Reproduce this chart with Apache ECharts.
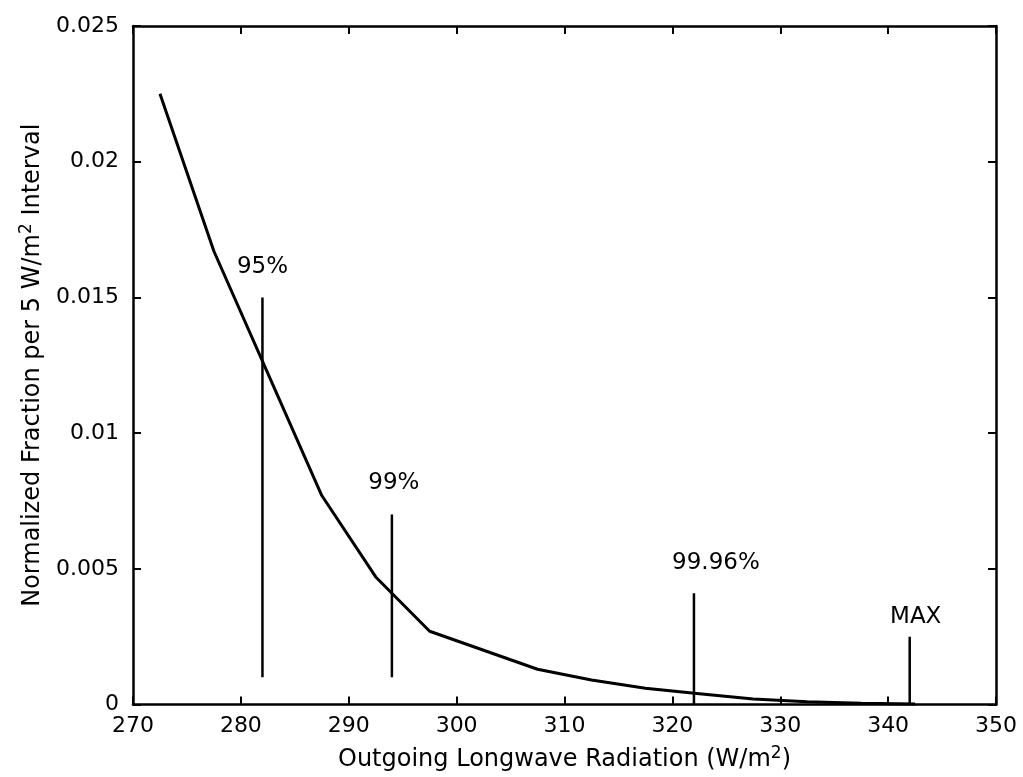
<!DOCTYPE html>
<html>
<head>
<meta charset="utf-8">
<script src="https://cdn.jsdelivr.net/npm/echarts@6/dist/echarts.min.js"></script>
<style>
  html, body { margin: 0; background: #fff; }
  #chart { width: 1023px; height: 777px; }
</style>
</head>
<body>
<div id="chart"></div>
<script>
// OLR bin centres (W/m2) and normalized fraction per 5 W/m2 bin
var olr = [272.5, 277.5, 282.5, 287.5, 292.5, 297.5, 302.5, 307.5, 312.5, 317.5, 322.5, 327.5, 332.5, 337.5, 342.5];
var fraction = [0.0225, 0.0167, 0.0122, 0.0077, 0.0047, 0.0027, 0.0020, 0.0013, 0.0009, 0.0006, 0.0004, 0.0002, 0.0001, 0.00005, 0.00002];

// percentile markers
var markX = [282, 294, 322, 342];
var markLow = [0.001, 0.001, 0, 0];
var markHigh = [0.015, 0.007, 0.0041, 0.0025];
var markText = ['95%', '99%', '99.96%', 'MAX'];

// axis ticks
var xMin = 270, xMax = 350, xStep = 10;
var yMin = 0, yMax = 0.025, yStep = 0.005;

var FONT = 'DejaVu Sans';
var chart = echarts.init(document.getElementById('chart'));

// label placement for each marker (px above the top and sideways shift)
var labelGap = [19, 20, 19, 8];
var labelShift = [0, 2, 22, 6];

var markSeries = markX.map(function (x, i) {
  return {
    type: 'line',
    xAxisIndex: 0,
    yAxisIndex: 0,
    symbol: 'circle',
    symbolSize: 0,
    showSymbol: true,
    silent: true,
    lineStyle: { color: '#000', width: 2.5 },
    itemStyle: { color: '#000' },
    data: [
      [x, markLow[i]],
      {
        value: [x, markHigh[i]],
        label: {
          show: true,
          formatter: markText[i],
          position: 'top',
          distance: labelGap[i],
          offset: [labelShift[i], 0],
          color: '#000',
          fontFamily: FONT,
          fontSize: 23
        }
      }
    ]
  };
});

function xAxisCfg(pos, showLabels) {
  return {
    type: 'value',
    position: pos,
    min: xMin,
    max: xMax,
    interval: xStep,
    axisLine: { show: true, onZero: false, lineStyle: { color: '#000', width: 2.5 } },
    axisTick: { show: true, inside: true, length: 8, lineStyle: { color: '#000', width: 2 } },
    axisLabel: { show: showLabels, color: '#000', fontFamily: FONT, fontSize: 22, margin: 11 },
    splitLine: { show: false }
  };
}

function yAxisCfg(pos, showLabels) {
  return {
    type: 'value',
    position: pos,
    min: yMin,
    max: yMax,
    interval: yStep,
    axisLine: { show: true, onZero: false, lineStyle: { color: '#000', width: 2.5 } },
    axisTick: { show: true, inside: true, length: 8, lineStyle: { color: '#000', width: 2 } },
    axisLabel: {
      show: showLabels, color: '#000', fontFamily: FONT, fontSize: 22, margin: 14,
      formatter: function (v) { return v === 0 ? '0' : String(+v.toFixed(3)); }
    },
    splitLine: { show: false }
  };
}

var bottomX = xAxisCfg('bottom', true);
bottomX.name = 'Outgoing Longwave Radiation (W/m{sup|2})';
bottomX.nameLocation = 'middle';
bottomX.nameGap = 41;
bottomX.nameTextStyle = {
  color: '#000', fontFamily: FONT, fontSize: 24,
  rich: { sup: { fontFamily: FONT, fontSize: 17, verticalAlign: 'top', padding: [0, 0, 12, 0] } }
};

var leftY = yAxisCfg('left', true);
leftY.name = 'Normalized Fraction per 5 W/m{sup|2} Interval';
leftY.nameLocation = 'middle';
leftY.nameGap = 86;
leftY.nameTextStyle = {
  color: '#000', fontFamily: FONT, fontSize: 24,
  rich: { sup: { fontFamily: FONT, fontSize: 17, verticalAlign: 'top', padding: [0, 0, 12, 0] } }
};

var option = {
  backgroundColor: '#fff',
  animation: false,
  grid: { left: 133, right: 27, top: 26, bottom: 72 },
  xAxis: [bottomX, xAxisCfg('top', false)],
  yAxis: [leftY, yAxisCfg('right', false)],
  series: [{
    type: 'line',
    xAxisIndex: 0,
    yAxisIndex: 0,
    symbol: 'none',
    silent: true,
    lineStyle: { color: '#000', width: 3 },
    data: olr.map(function (x, i) { return [x, fraction[i]]; })
  }].concat(markSeries)
};

chart.setOption(option);
</script>
</body>
</html>
